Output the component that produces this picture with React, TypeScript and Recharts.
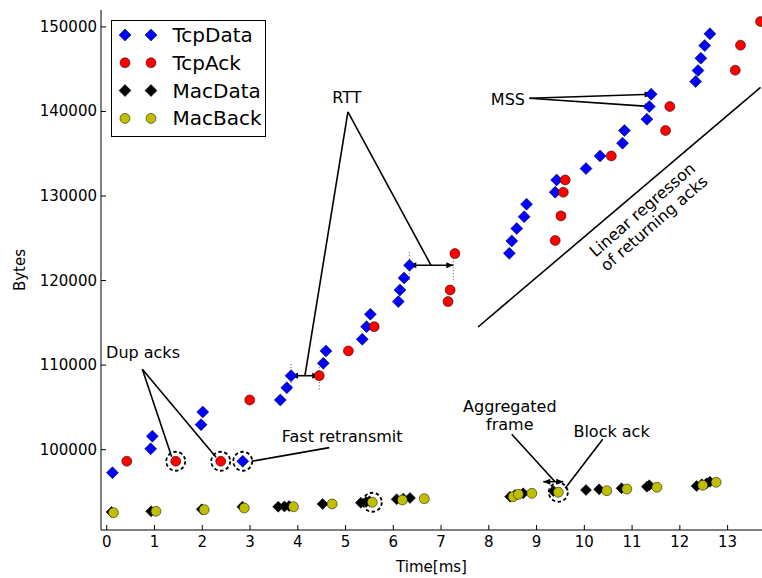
import React from 'react';
import { ScatterChart, Scatter, XAxis, YAxis, ReferenceLine, ReferenceDot, Legend } from 'recharts';

const FONT = "'DejaVu Sans', 'Bitstream Vera Sans', sans-serif";

// ---------- data ----------
const xTicks = [0, 1, 2, 3, 4, 5, 6, 7, 8, 9, 10, 11, 12, 13];
const yTicks = [100000, 110000, 120000, 130000, 140000, 150000];

const tcpData = [
  { x: 0.12, y: 97280 }, { x: 0.92, y: 100100 }, { x: 0.955, y: 101590 }, { x: 1.975, y: 102960 },
  { x: 2.01, y: 104460 }, { x: 2.848, y: 98630 }, { x: 3.635, y: 105880 }, { x: 3.77, y: 107330 },
  { x: 3.86, y: 108750 }, { x: 4.535, y: 110220 }, { x: 4.59, y: 111680 }, { x: 5.35, y: 113060 },
  { x: 5.44, y: 114550 }, { x: 5.52, y: 116020 }, { x: 6.105, y: 117510 }, { x: 6.14, y: 118890 },
  { x: 6.225, y: 120310 }, { x: 6.34, y: 121810 }, { x: 8.43, y: 123230 }, { x: 8.48, y: 124690 },
  { x: 8.585, y: 126150 }, { x: 8.74, y: 127560 }, { x: 8.79, y: 129030 }, { x: 9.39, y: 130450 },
  { x: 9.42, y: 131900 }, { x: 10.035, y: 133240 }, { x: 10.33, y: 134740 }, { x: 10.8, y: 136250 },
  { x: 10.84, y: 137740 }, { x: 11.31, y: 139090 }, { x: 11.36, y: 140580 }, { x: 11.4, y: 142040 },
  { x: 12.33, y: 143540 }, { x: 12.38, y: 144840 }, { x: 12.44, y: 146300 }, { x: 12.52, y: 147790 },
  { x: 12.63, y: 149180 },
];

const tcpAck = [
  { x: 0.42, y: 98630 }, { x: 1.445, y: 98630 }, { x: 2.387, y: 98630 }, { x: 2.994, y: 105880 },
  { x: 4.45, y: 108750 }, { x: 5.06, y: 111680 }, { x: 5.6, y: 114550 }, { x: 7.146, y: 117510 },
  { x: 7.19, y: 118890 }, { x: 7.29, y: 123190 }, { x: 9.39, y: 124730 }, { x: 9.51, y: 127650 },
  { x: 9.56, y: 130450 }, { x: 9.6, y: 131900 }, { x: 10.565, y: 134740 }, { x: 11.7, y: 137740 },
  { x: 11.79, y: 140580 }, { x: 13.16, y: 144880 }, { x: 13.27, y: 147840 }, { x: 13.69, y: 150630 },
];

const macData = [
  { x: 0.1, y: 92630 }, { x: 0.93, y: 92710 }, { x: 1.99, y: 92950 }, { x: 2.84, y: 93250 },
  { x: 3.59, y: 93250 }, { x: 3.72, y: 93290 }, { x: 3.82, y: 93330 }, { x: 4.52, y: 93580 },
  { x: 5.32, y: 93730 }, { x: 5.43, y: 93820 }, { x: 5.5, y: 93900 }, { x: 6.07, y: 94130 },
  { x: 6.21, y: 94210 }, { x: 6.35, y: 94290 }, { x: 8.445, y: 94440 }, { x: 8.55, y: 94640 },
  { x: 8.72, y: 94840 }, { x: 9.35, y: 95110 }, { x: 10.035, y: 95230 }, { x: 10.31, y: 95310 },
  { x: 10.78, y: 95430 }, { x: 11.31, y: 95620 }, { x: 11.36, y: 95790 }, { x: 12.35, y: 95700 },
  { x: 12.46, y: 95910 }, { x: 12.56, y: 96020 }, { x: 12.63, y: 96210 },
];

const macBack = [
  { x: 0.14, y: 92550 }, { x: 1.03, y: 92710 }, { x: 2.04, y: 92900 }, { x: 2.88, y: 93100 },
  { x: 3.91, y: 93250 }, { x: 4.72, y: 93580 }, { x: 5.56, y: 93780 }, { x: 6.19, y: 94050 },
  { x: 6.65, y: 94200 }, { x: 8.51, y: 94440 }, { x: 8.62, y: 94720 }, { x: 8.9, y: 94840 },
  { x: 9.455, y: 94960 }, { x: 10.47, y: 95150 }, { x: 10.89, y: 95350 }, { x: 11.52, y: 95550 },
  { x: 12.48, y: 95790 }, { x: 12.76, y: 96140 },
];

const seriesNames = ['TcpData', 'TcpAck', 'MacData', 'MacBack'];
const seriesColors = ['#0000ff', '#ff0000', '#000000', '#bfbf00'];
const seriesMarkers = ['diamond', 'circle', 'diamond', 'circle'];

// annotation texts (data coordinates)
const annoTexts = [
  { x: 5.03, y: 141700, lines: ['RTT'], angle: 0 },
  { x: 8.4, y: 141480, lines: ['MSS'], angle: 0 },
  { x: 0.76, y: 111550, lines: ['Dup acks'], angle: 0 },
  { x: 4.93, y: 101620, lines: ['Fast retransmit'], angle: 0 },
  { x: 8.44, y: 104080, lines: ['Aggregated', 'frame'], angle: 0 },
  { x: 10.57, y: 102210, lines: ['Block ack'], angle: 0 },
  { x: 11.33, y: 127620, lines: ['Linear regresson', 'of returning acks'], angle: -41 },
];

// annotation lines
const annoLines = [
  { x1: 5.05, y1: 139940, x2: 4.15, y2: 108750, a1: false, a2: false },
  { x1: 5.05, y1: 139940, x2: 6.79, y2: 121810, a1: false, a2: false },
  { x1: 3.86, y1: 108750, x2: 4.45, y2: 108750, a1: true, a2: true },
  { x1: 6.336, y1: 121810, x2: 7.257, y2: 121810, a1: true, a2: true },
  { x1: 8.85, y1: 141560, x2: 11.41, y2: 142030, a1: false, a2: true },
  { x1: 8.85, y1: 141560, x2: 11.41, y2: 140570, a1: false, a2: true },
  { x1: 7.774, y1: 114510, x2: 13.69, y2: 142860, a1: false, a2: false },
  { x1: 0.745, y1: 109510, x2: 1.36, y2: 99170, a1: false, a2: false },
  { x1: 0.745, y1: 109510, x2: 2.29, y2: 99100, a1: false, a2: false },
  { x1: 4.66, y1: 100240, x2: 3.036, y2: 98630, a1: false, a2: false },
  { x1: 8.48, y1: 101820, x2: 9.387, y2: 96215, a1: false, a2: false },
  { x1: 9.14, y1: 96215, x2: 9.56, y2: 96215, a1: true, a2: true },
  { x1: 10.385, y1: 101230, x2: 9.6, y2: 95430, a1: false, a2: false },
];

// dotted vertical guides for RTT
const guideLines = [
  { x: 3.86, y1: 107150, y2: 110350 },
  { x: 4.45, y1: 107150, y2: 110350 },
  { x: 6.336, y1: 120040, y2: 123580 },
  { x: 7.257, y1: 120040, y2: 123580 },
];

// dashed highlight circles
const highlights = [
  { x: 1.445, y: 98630 }, { x: 2.387, y: 98630 }, { x: 2.848, y: 98630 },
  { x: 5.56, y: 93780 }, { x: 9.455, y: 94960 },
];

// ---------- shapes ----------
const Diamond = (props: any) => {
  const { cx, cy, fill, s = 6 } = props;
  if (cx == null || cy == null) return null;
  return (
    <polygon
      points={`${cx},${cy - s} ${cx + s},${cy} ${cx},${cy + s} ${cx - s},${cy}`}
      fill={fill}
      stroke="#000"
      strokeWidth={0.5}
    />
  );
};

const Dot = (props: any) => {
  const { cx, cy, fill, r = 5 } = props;
  if (cx == null || cy == null) return null;
  return <circle cx={cx} cy={cy} r={r} fill={fill} stroke="#000" strokeWidth={0.5} />;
};

const head = (xa: number, ya: number, xb: number, yb: number) => {
  const ang = Math.atan2(yb - ya, xb - xa);
  const L = 7, Wd = 3;
  const bx = xb - L * Math.cos(ang), by = yb - L * Math.sin(ang);
  const px = -Math.sin(ang) * Wd, py = Math.cos(ang) * Wd;
  return `${xb},${yb} ${bx + px},${by + py} ${bx - px},${by - py}`;
};

const makeArrowShape = (a1: boolean, a2: boolean) => (p: any) => {
  const { x1, y1, x2, y2 } = p;
  return (
    <g>
      <line x1={x1} y1={y1} x2={x2} y2={y2} stroke="#000" strokeWidth={1.6} />
      {a1 && <polygon points={head(x2, y2, x1, y1)} fill="#000" />}
      {a2 && <polygon points={head(x1, y1, x2, y2)} fill="#000" />}
    </g>
  );
};

const makeTextShape = (lines: string[], angle: number) => (p: any) => {
  const { cx, cy } = p;
  const lh = 18;
  const y0 = cy - ((lines.length - 1) * lh) / 2;
  return (
    <text
      x={cx}
      y={y0}
      textAnchor="middle"
      dominantBaseline="central"
      fontFamily={FONT}
      fontSize={16}
      fill="#000"
      transform={angle ? `rotate(${angle} ${cx} ${cy})` : undefined}
    >
      {lines.map((l, i) => (
        <tspan key={i} x={cx} y={y0 + i * lh}>{l}</tspan>
      ))}
    </text>
  );
};

const HighlightShape = (p: any) => (
  <circle cx={p.cx} cy={p.cy} r={9.5} fill="none" stroke="#000" strokeWidth={1.8} strokeDasharray="3.5 2.5" />
);

// ---------- axes ticks ----------
const BottomTick = (p: any) => {
  const { x, y, payload } = p;
  return (
    <g>
      <line x1={x} x2={x} y1={y} y2={y - 5} stroke="#000" />
      <text x={x} y={y + 17} textAnchor="middle" fontFamily={FONT} fontSize={15} fill="#000">
        {payload.value}
      </text>
    </g>
  );
};

const TopTick = (p: any) => {
  const { x, y } = p;
  return <line x1={x} x2={x} y1={y} y2={y + 5} stroke="#000" />;
};

const LeftTick = (p: any) => {
  const { x, y, payload } = p;
  return (
    <g>
      <line x1={x} x2={x + 5} y1={y} y2={y} stroke="#000" />
      <text x={x - 4} y={y} textAnchor="end" dominantBaseline="central" fontFamily={FONT} fontSize={15} fill="#000">
        {payload.value}
      </text>
    </g>
  );
};

const LegendBox = () => (
  <svg width={155} height={117} style={{ display: 'block' }}>
    <rect x={0.5} y={0.5} width={154} height={116} fill="#fff" stroke="#000" strokeWidth={1} />
    {seriesNames.map((name, i) => {
      const cy = 15 + i * 27.8;
      const M = seriesMarkers[i] === 'diamond' ? Diamond : Dot;
      return (
        <g key={name}>
          <M cx={14} cy={cy} fill={seriesColors[i]} s={6} r={5} />
          <M cx={40} cy={cy} fill={seriesColors[i]} s={6} r={5} />
          <text x={61.5} y={cy} dominantBaseline="central" fontFamily={FONT} fontSize={20} fill="#000">
            {name}
          </text>
        </g>
      );
    })}
  </svg>
);

const seriesData = [tcpData, tcpAck, macData, macBack];

export default function App() {
  return (
    <div style={{ position: 'absolute', left: 0, top: 0, width: 762, height: 578, background: '#fff' }}>
      <ScatterChart width={762} height={578} margin={{ top: 10, right: 0, bottom: 0, left: 0 }}>
        <XAxis
          xAxisId={0}
          type="number"
          dataKey="x"
          domain={[-0.12, 13.72]}
          allowDataOverflow
          ticks={xTicks}
          interval={0}
          height={48}
          tickSize={0}
          tickMargin={0}
          tick={<BottomTick />}
          axisLine={{ stroke: '#000', strokeWidth: 1 }}
          label={{ value: 'Time[ms]', position: 'insideBottom', offset: 6, fontSize: 15, fill: '#000', fontFamily: FONT }}
        />
        <XAxis
          xAxisId="top"
          orientation="top"
          type="number"
          dataKey="x"
          domain={[-0.12, 13.72]}
          allowDataOverflow
          ticks={xTicks}
          interval={0}
          height={0}
          tickSize={0}
          tickMargin={0}
          tick={<TopTick />}
          axisLine={{ stroke: '#000', strokeWidth: 1 }}
        />
        <YAxis
          yAxisId={0}
          type="number"
          dataKey="y"
          domain={[90500, 152000]}
          allowDataOverflow
          ticks={yTicks}
          interval={0}
          width={101}
          tickSize={0}
          tickMargin={0}
          tick={<LeftTick />}
          axisLine={{ stroke: '#000', strokeWidth: 1 }}
          label={{
            content: (lp: any) => {
              const vb = lp.viewBox || { x: 0, y: 10, width: 101, height: 520 };
              const cx = 20;
              const cy = vb.y + vb.height / 2;
              return (
                <text x={cx} y={cy} textAnchor="middle" dominantBaseline="central" fontFamily={FONT} fontSize={15} fill="#000" transform={`rotate(-90 ${cx} ${cy})`}>
                  Bytes
                </text>
              );
            },
          }}
        />
        {seriesNames.map((name, i) => (
          <Scatter
            key={name}
            name={name}
            data={seriesData[i]}
            fill={seriesColors[i]}
            isAnimationActive={false}
            shape={(p: any) =>
              seriesMarkers[i] === 'diamond' ? (
                <Diamond cx={p.cx} cy={p.cy} fill={seriesColors[i]} s={i === 0 ? 6 : 5.5} />
              ) : (
                <Dot cx={p.cx} cy={p.cy} fill={seriesColors[i]} r={5} />
              )
            }
          />
        ))}
        {guideLines.map((g, i) => (
          <ReferenceLine
            key={`g${i}`}
            segment={[{ x: g.x, y: g.y1 }, { x: g.x, y: g.y2 }]}
            stroke="#555"
            strokeWidth={1}
            strokeDasharray="1 2"
            ifOverflow="visible"
          />
        ))}
        {annoLines.map((l, i) => (
          <ReferenceLine
            key={`l${i}`}
            segment={[{ x: l.x1, y: l.y1 }, { x: l.x2, y: l.y2 }]}
            ifOverflow="visible"
            shape={makeArrowShape(l.a1, l.a2)}
          />
        ))}
        {highlights.map((h, i) => (
          <ReferenceDot key={`h${i}`} x={h.x} y={h.y} r={10} ifOverflow="visible" shape={HighlightShape} />
        ))}
        {annoTexts.map((t, i) => (
          <ReferenceDot key={`t${i}`} x={t.x} y={t.y} r={1} ifOverflow="visible" shape={makeTextShape(t.lines, t.angle)} />
        ))}
        <Legend
          layout="vertical"
          align="center"
          verticalAlign="middle"
          wrapperStyle={{ position: 'absolute', left: 111, top: 20, width: 155, height: 117, margin: 0, padding: 0 }}
          content={() => <LegendBox />}
        />
      </ScatterChart>
    </div>
  );
}
